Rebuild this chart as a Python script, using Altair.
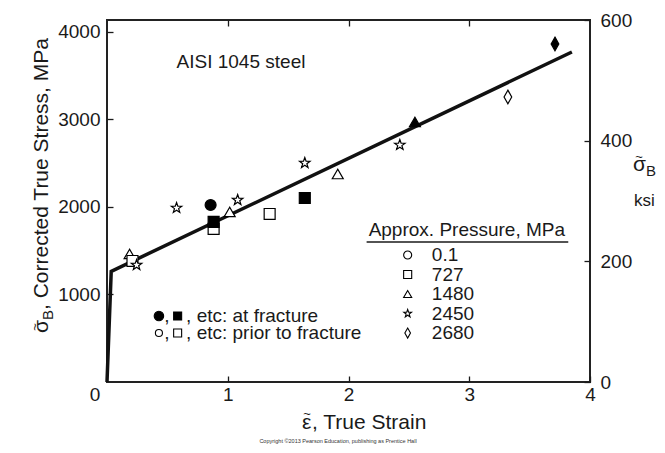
import altair as alt
import pandas as pd

# ---- data ----
line_strain = [0.0, 0.035, 3.85]
line_stress = [0, 1265, 3771]

pt_strain = [0.187, 1.016, 1.911, 0.211, 0.883, 1.347, 0.245, 0.576, 1.082, 1.638,
             2.425, 3.32, 0.858, 0.883, 1.638, 2.55, 3.71]
pt_stress = [1463, 1943, 2377, 1383, 1749, 1920, 1337, 1989, 2080, 2503,
             2709, 3257, 2023, 1829, 2103, 2971, 3863]
pt_pressure = ["1480", "1480", "1480", "727", "727", "727", "2450", "2450", "2450", "2450",
               "2450", "2680", "0.1", "727", "727", "1480", "2680"]
pt_state = ["prior"] * 12 + ["fracture"] * 5

pressures = ["0.1", "727", "1480", "2450", "2680"]
x_ticks = [1, 2, 3, 4]
y_ticks = [1000, 2000, 3000, 4000]
ksi_ticks = [0, 200, 400, 600]
KSI = 6.894757

STAR = ("M0,-1L0.235,-0.324L0.951,-0.309L0.38,0.124L0.588,0.809L0,0.4"
        "L-0.588,0.809L-0.38,0.124L-0.951,-0.309L-0.235,-0.324Z")
DIAMOND = "M0,-1.25L0.7,0L0,1.25L-0.7,0Z"
shape_range = ["circle", "square", "triangle-up", STAR, DIAMOND]

FONT = "Liberation Sans"
INK = "#1a1a1a"

xs = alt.Scale(domain=[0, 4], nice=False, zero=False)
ys = alt.Scale(domain=[0, 600 * KSI], nice=False, zero=False)
shape_scale = alt.Scale(domain=pressures, range=shape_range)
fill_scale = alt.Scale(domain=["fracture", "prior"], range=["black", "white"])

lines_df = pd.DataFrame({"strain": line_strain, "stress": line_stress})
pts_df = pd.DataFrame({"strain": pt_strain, "stress": pt_stress,
                       "pressure": pt_pressure, "state": pt_state})

common_axis = dict(grid=False, domain=False, tickColor=INK, tickWidth=1.3, tickSize=6,
                   offset=-6, labelFont=FONT, labelFontSize=19, labelColor=INK, title=None)

bottom_axis = alt.Axis(orient="bottom", values=x_ticks, labelPadding=3, labelFlush=False,
                       format="d", **common_axis)
left_axis = alt.Axis(orient="left", values=y_ticks, labelPadding=7, format="d", **common_axis)
top_axis = alt.Axis(orient="top", values=[1, 2, 3], labels=False, **common_axis)
right_axis = alt.Axis(orient="right", values=[v * KSI for v in ksi_ticks], labelPadding=10,
                      labelExpr="format(datum.value / 6.894757, '.0f')", **common_axis)

line = alt.Chart(lines_df).mark_line(color="#111", strokeWidth=3.5).encode(
    x=alt.X("strain:Q", scale=xs, axis=bottom_axis),
    y=alt.Y("stress:Q", scale=ys, axis=left_axis),
)

points = alt.Chart(pts_df).mark_point(stroke="black", strokeWidth=1.2, size=120,
                                      opacity=1, fillOpacity=1).encode(
    x=alt.X("strain:Q", scale=xs, axis=top_axis),
    y=alt.Y("stress:Q", scale=ys, axis=right_axis),
    shape=alt.Shape("pressure:N", scale=shape_scale, legend=None),
    fill=alt.Fill("state:N", scale=fill_scale, legend=None),
)

# ---- manual legend (pressure) ----
leg_y0, leg_dy = 1451, 223
leg_df = pd.DataFrame({
    "pressure": pressures,
    "y": [leg_y0 - i * leg_dy for i in range(len(pressures))],
    "xs": [2.49] * len(pressures),
    "xt": [2.69] * len(pressures),
})
leg_sym = alt.Chart(leg_df).mark_point(stroke="black", strokeWidth=1.1, size=65, fill="white",
                                       filled=False, opacity=1).encode(
    x=alt.X("xs:Q", scale=xs, axis=None),
    y=alt.Y("y:Q", scale=ys, axis=None),
    shape=alt.Shape("pressure:N", scale=shape_scale, legend=None),
)
leg_txt = alt.Chart(leg_df).mark_text(align="left", baseline="middle", font=FONT,
                                      fontSize=19, color=INK).encode(
    x=alt.X("xt:Q", scale=xs, axis=None),
    y=alt.Y("y:Q", scale=ys, axis=None),
    text="pressure:N",
)
head_df = pd.DataFrame({"x": [2.98], "y": [1737], "x1": [2.15], "x2": [3.82], "yr": [1600]})
leg_head = alt.Chart(head_df).mark_text(align="center", baseline="middle", font=FONT,
                                        fontSize=19, color=INK,
                                        text="Approx. Pressure, MPa").encode(
    x=alt.X("x:Q", scale=xs, axis=None), y=alt.Y("y:Q", scale=ys, axis=None))
leg_rule = alt.Chart(head_df).mark_rule(color=INK, strokeWidth=1.5).encode(
    x=alt.X("x1:Q", scale=xs, axis=None), x2="x2:Q", y=alt.Y("yr:Q", scale=ys, axis=None))

# ---- fracture annotation ----
ann_sym_df = pd.DataFrame({
    "x": [0.43, 0.585, 0.43, 0.585],
    "y": [754, 754, 560, 560],
    "shape": ["circle", "square", "circle", "square"],
    "state": ["fracture", "fracture", "prior", "prior"],
    "size": [90, 64, 50, 64],
})
ann_sym = alt.Chart(ann_sym_df).mark_point(stroke="black", strokeWidth=1.1, opacity=1,
                                           fillOpacity=1).encode(
    x=alt.X("x:Q", scale=xs, axis=None),
    y=alt.Y("y:Q", scale=ys, axis=None),
    shape=alt.Shape("shape:N", scale=alt.Scale(domain=["circle", "square"],
                                                range=["circle", "square"]), legend=None),
    fill=alt.Fill("state:N", scale=fill_scale, legend=None),
    size=alt.Size("size:Q", scale=None, legend=None),
)
ann_txt_df = pd.DataFrame({
    "x": [0.475, 0.655, 0.475, 0.655],
    "y": [754, 754, 560, 560],
    "t": [",", ", etc: at fracture", ",", ", etc: prior to fracture"],
})
ann_txt = alt.Chart(ann_txt_df).mark_text(align="left", baseline="middle", font=FONT,
                                          fontSize=19, color=INK).encode(
    x=alt.X("x:Q", scale=xs, axis=None), y=alt.Y("y:Q", scale=ys, axis=None), text="t:N")

one = pd.DataFrame({"x": [0.576], "y": [3657], "zx": [-0.1], "zy": [-150]})
aisi = alt.Chart(one).mark_text(align="left", baseline="middle", font=FONT, fontSize=19,
                                color=INK, text="AISI 1045 steel").encode(
    x=alt.X("x:Q", scale=xs, axis=None), y=alt.Y("y:Q", scale=ys, axis=None))
zero_lbl = alt.Chart(one).mark_text(align="center", baseline="middle", font=FONT, fontSize=19,
                                    color=INK, text="0").encode(
    x=alt.X("zx:Q", scale=xs, axis=None), y=alt.Y("zy:Q", scale=ys, axis=None))


def label(text, px, py, size=19, angle=0, align="left", baseline="middle", font=FONT, color=INK):
    kw = dict(text=text, fontSize=size, align=align, baseline=baseline, font=font, color=color)
    if angle:
        kw["angle"] = angle
    return alt.Chart(one).mark_text(**kw).encode(x=alt.value(px), y=alt.value(py))


SIG = "\u03c3"
EPS = "\u03b5"
TIL = "~"
texts = [
    # left axis title (rotated)
    label(SIG, -59, 313, size=21, angle=270, baseline="alphabetic"),
    label(TIL, -72, 307, size=13, angle=270, align="center"),
    label("B", -54, 300, size=15, angle=270, baseline="alphabetic"),
    label(", Corrected True Stress, MPa", -59, 290, size=21, angle=270, baseline="alphabetic"),
    # right axis title
    label(SIG, 526, 151, size=21, baseline="alphabetic"),
    label(TIL, 532, 137, size=13, align="center"),
    label("B", 539, 156, size=15, baseline="alphabetic"),
    label("ksi", 527, 181, size=17),
    # x axis title
    label(EPS, 195, 403, size=21),
    label(TIL, 200, 394, size=13, align="center"),
    label(", True Strain", 205, 403, size=21),
    # copyright
    label("Copyright \u00a92013 Pearson Education, publishing as Prentice Hall", 231, 421,
          size=5.5, align="center", color="#333"),
]

chart = alt.layer(
    line, points, leg_sym, leg_txt, leg_head, leg_rule, ann_sym, ann_txt, aisi, zero_lbl, *texts
).resolve_axis(x="independent", y="independent").properties(
    width=483, height=362,
    autosize=alt.AutoSizeParams(type="none"),
    padding={"left": 99, "top": 12, "right": 67, "bottom": 63},
    background="white",
).configure_view(stroke="#222", strokeWidth=2)

chart.save("out.html", embed_options={"renderer": "svg", "actions": False})
